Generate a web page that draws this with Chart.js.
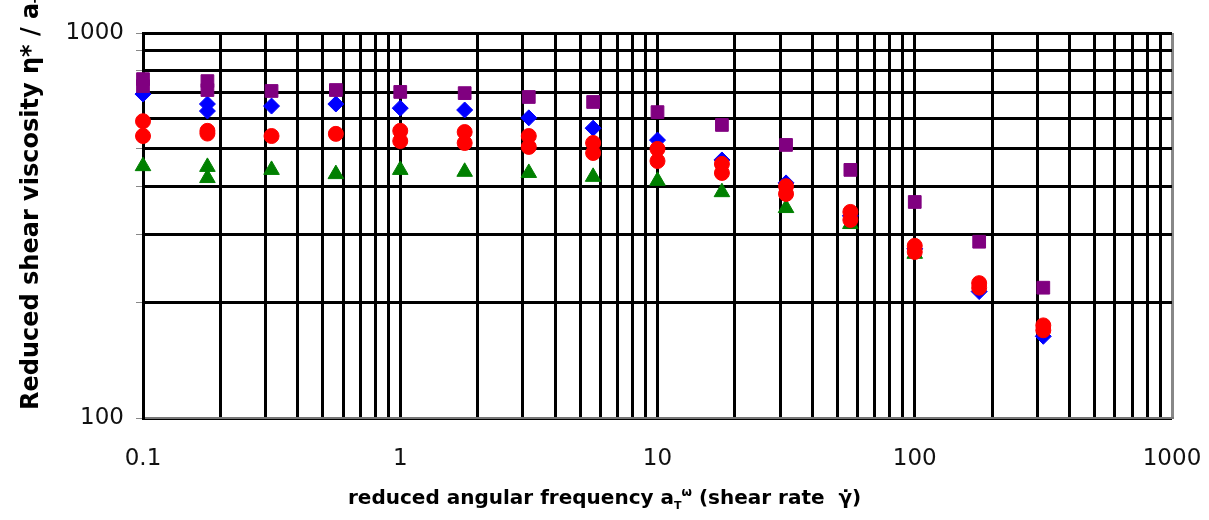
<!DOCTYPE html>
<html>
<head>
<meta charset="utf-8">
<script src="https://cdn.jsdelivr.net/npm/chart.js@4/dist/chart.umd.min.js"></script>
<style>
  html, body { margin: 0; padding: 0; background: #fff; }
  #wrap { width: 1209px; height: 520px; }
</style>
</head>
<body>
<div id="wrap"><canvas id="viscChart"></canvas></div>
<script>
// reduced angular frequency (x) for each measuring point
const freq = [0.1, 0.178, 0.316, 0.562, 1, 1.78, 3.16, 5.62, 10, 17.8, 31.6, 56.2, 100, 178, 316];

// reduced shear viscosity, second list = repeated runs (null where no repeat is visible)
const purpleRun1 = [759, 750, 707, 711, 703, 698, 682, 662, 623, 577, 512, 441, 364, 287, 218];
const purpleRun2 = [728, 711, null, null, null, null, null, null, null, null, null, null, null, null, null];
const blueRun1 = [694, 654, 646, 654, 638, 631, 602, 566, 527, 468, 408, 335, 275, 213, 163];
const blueRun2 = [null, 627, null, null, null, null, null, null, null, null, null, null, null, null, null];
const redRun1 = [590, 557, 540, 547, 557, 553, 540, 518, 500, 457, 400, 343, 280, 224, 174];
const redRun2 = [540, 548, null, null, 524, 518, 506, 488, 465, 433, 382, 327, 270, 218, 169];
const greenRun1 = [451, 449, 441, 430, 441, 436, 433, 423, 413, 386, 351, 319, 267, null, null];
const greenRun2 = [null, 420, null, null, null, null, null, null, null, null, null, null, null, null, null];

// axis ticks
const xDecades = [0.1, 1, 10, 100, 1000];
const yDecades = [100, 1000];
const xLabels = ['0.1', '1', '10', '100', '1000'];
const yLabels = ['100', '1000'];

function toPoints(values) {
    const pts = [];
    values.forEach((v, i) => { if (v !== null) pts.push({ x: freq[i], y: v }); });
    return pts;
}

// 1..9 x each decade, used for the grid
function logGrid(decades) {
    const vals = [];
    for (let d = 0; d < decades.length - 1; d++) {
        for (let m = 1; m < 10; m++) vals.push(+(decades[d] * m).toPrecision(3));
    }
    vals.push(decades[decades.length - 1]);
    return vals;
}

function series(values, color, style, radius, order) {
    return {
        data: toPoints(values),
        pointStyle: style,
        pointRadius: radius,
        pointHoverRadius: radius,
        backgroundColor: color,
        borderColor: color,
        borderWidth: 1,
        showLine: false,
        clip: false,
        order: order
    };
}

// axis titles need sub/superscripts, so they are drawn by hand
function drawRich(c, parts, x, y) {
    let cx = x;
    parts.forEach(p => {
        c.font = 'bold ' + p.size + 'px "DejaVu Sans", sans-serif';
        c.fillText(p.text, cx, y + p.dy);
        cx += c.measureText(p.text).width;
    });
}

const axisTitles = {
    id: 'axisTitles',
    afterDraw(chart) {
        const c = chart.ctx;
        c.save();
        c.fillStyle = '#000';
        c.textBaseline = 'alphabetic';
        c.textAlign = 'left';
        drawRich(c, [
            { text: 'reduced angular frequency a', size: 20, dy: 0 },
            { text: 'T', size: 11, dy: 5 },
            { text: 'ω', size: 12, dy: -8 },
            { text: ' (shear rate  γ̇)', size: 20, dy: 0 }
        ], 348, 504);
        c.translate(38, 410);
        c.rotate(-Math.PI / 2);
        drawRich(c, [
            { text: 'Reduced shear viscosity η* / a', size: 24, dy: 0 },
            { text: 'T', size: 13, dy: 5 }
        ], 0, 0);
        c.restore();
    }
};

const tickFont = { family: '"DejaVu Sans", sans-serif', size: 23 };

const ctx = document.getElementById('viscChart').getContext('2d');
const viscChart = new Chart(ctx, {
    type: 'scatter',
    data: {
        datasets: [
            series(redRun1, '#ff0000', 'circle', 7.5, 1),
            series(redRun2, '#ff0000', 'circle', 7.5, 1),
            series(purpleRun1, '#800080', 'rect', 9, 2),
            series(purpleRun2, '#800080', 'rect', 9, 2),
            series(blueRun1, '#0000ff', 'rectRot', 8, 3),
            series(blueRun2, '#0000ff', 'rectRot', 8, 3),
            series(greenRun1, '#008000', 'triangle', 9, 4),
            series(greenRun2, '#008000', 'triangle', 9, 4)
        ]
    },
    options: {
        responsive: true,
        maintainAspectRatio: false,
        animation: false,
        layout: { padding: { left: 0, right: 37, top: 33, bottom: 0 } },
        plugins: {
            legend: { display: false },
            tooltip: { enabled: false }
        },
        scales: {
            x: {
                type: 'logarithmic',
                min: 0.1,
                max: 1000,
                afterBuildTicks: (scale) => { scale.ticks = logGrid(xDecades).map(v => ({ value: v })); },
                afterFit: (scale) => { scale.height = 102; },
                ticks: {
                    autoSkip: false,
                    maxRotation: 0,
                    padding: 3,
                    color: '#111',
                    font: tickFont,
                    callback: (value) => {
                        const i = xDecades.findIndex(d => Math.abs(d - value) < 1e-9);
                        return i >= 0 ? xLabels[i] : '';
                    }
                },
                grid: {
                    color: (c) => (c.tick && c.tick.value === 1000 ? '#888' : '#000'),
                    lineWidth: 3,
                    drawTicks: true,
                    tickLength: 24,
                    tickColor: 'rgba(0,0,0,0)'
                },
                border: { color: '#777', width: 2 }
            },
            y: {
                type: 'logarithmic',
                min: 100,
                max: 1000,
                afterBuildTicks: (scale) => { scale.ticks = logGrid(yDecades).map(v => ({ value: v })); },
                afterFit: (scale) => { scale.width = 143; },
                ticks: {
                    autoSkip: false,
                    padding: 12,
                    color: '#111',
                    font: tickFont,
                    callback: (value) => {
                        const i = yDecades.findIndex(d => Math.abs(d - value) < 1e-9);
                        return i >= 0 ? yLabels[i] : '';
                    }
                },
                grid: {
                    color: '#000',
                    lineWidth: 3,
                    tickLength: 7,
                    tickColor: '#888',
                    tickWidth: 1
                },
                border: { color: '#000', width: 3 }
            }
        }
    },
    plugins: [axisTitles]
});
</script>
</body>
</html>
